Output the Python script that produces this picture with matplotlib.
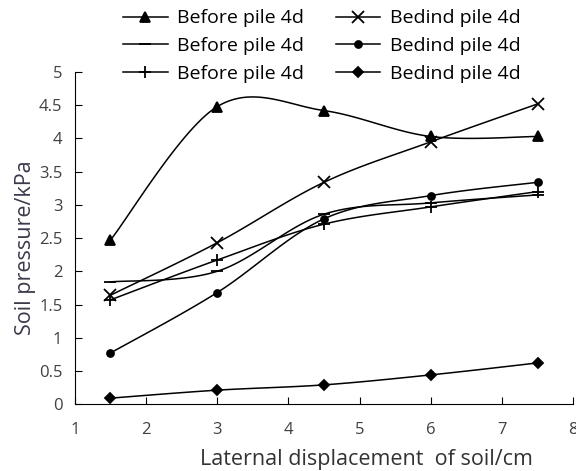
import numpy as np
import matplotlib
matplotlib.use("Agg")
import matplotlib.pyplot as plt
from matplotlib.lines import Line2D

x = [1.5, 3, 4.5, 6, 7.5]
tri_before = [2.47, 4.48, 4.42, 4.03, 4.03]
x_behind = [1.64, 2.43, 3.34, 3.95, 4.52]
dash_before = [1.84, 2.0, 2.86, 3.03, 3.15]
dot_behind = [0.77, 1.68, 2.79, 3.14, 3.34]
plus_before = [1.57, 2.17, 2.71, 2.97, 3.2]
dia_behind = [0.09, 0.21, 0.29, 0.44, 0.62]

labels = ["Before pile 4d", "Before pile 4d", "Before pile 4d",
          "Bedind pile 4d", "Bedind pile 4d", "Bedind pile 4d"]
series = [tri_before, dash_before, plus_before, x_behind, dot_behind, dia_behind]
markers = ['^', '_', '+', 'x', 'o', 'D']
msizes = [7, 9, 9, 8, 5, 5]


def smooth(xs, ys, n=30):
    # catmull-rom curve through the points, like the spreadsheet "smoothed line"
    xs = np.asarray(xs, float)
    ys = np.asarray(ys, float)
    P = np.column_stack([xs, ys])
    P = np.vstack([P[0], P, P[-1]])
    out = []
    for i in range(1, len(P) - 2):
        p0, p1, p2, p3 = P[i - 1], P[i], P[i + 1], P[i + 2]
        c1 = p1 + (p2 - p0) / 6
        c2 = p2 - (p3 - p1) / 6
        t = np.linspace(0, 1, n)[:, None]
        b = (1 - t) ** 3 * p1 + 3 * (1 - t) ** 2 * t * c1 + 3 * (1 - t) * t ** 2 * c2 + t ** 3 * p2
        out.append(b if i == 1 else b[1:])
    out = np.vstack(out)
    return out[:, 0], out[:, 1]


plt.rcParams['font.family'] = ['Open Sans', 'DejaVu Sans']

fig = plt.figure(figsize=(5.76, 4.71), dpi=100)
ax = fig.add_axes([0.130, 0.142, 0.865, 0.705])

handles = []
for ys, m, ms, lab in zip(series, markers, msizes, labels):
    sx, sy = smooth(x, ys)
    ax.plot(sx, sy, color='black', lw=1.1)
    ax.plot(x, ys, linestyle='none', marker=m, ms=ms, color='black', mew=1.3)
    handles.append(Line2D([], [], color='black', lw=1.1, marker=m, ms=ms, mew=1.3, label=lab))

ax.set_xlim(1, 8)
ax.set_ylim(0, 5)
ax.set_xticks(range(1, 9))
ax.set_yticks(np.arange(0, 5.01, 0.5))
ax.set_yticklabels(['0', '0.5', '1', '1.5', '2', '2.5', '3', '3.5', '4', '4.5', '5'])
ax.spines['top'].set_visible(False)
ax.spines['right'].set_visible(False)
ax.tick_params(direction='in', length=5, labelsize=12, labelcolor='#404040')
ax.tick_params(axis='x', pad=13)
ax.tick_params(axis='y', pad=9)
ax.set_xlabel('Laternal displacement  of soil/cm', fontsize=15.5, color='#333333')
ax.set_ylabel('Soil pressure/kPa', fontsize=15.5, color='#3a3a4a')
ax.xaxis.set_label_coords(0.585, -0.135)
ax.yaxis.set_label_coords(-0.078, 0.47)

fig.legend(handles=handles, ncol=2, loc='upper left', bbox_to_anchor=(0.2135, 0.98),
           frameon=False, fontsize=14, handlelength=2.3, labelspacing=0.5,
           columnspacing=1.6, handletextpad=0.5, borderpad=0, borderaxespad=0)

plt.savefig("out.png", dpi=100)
